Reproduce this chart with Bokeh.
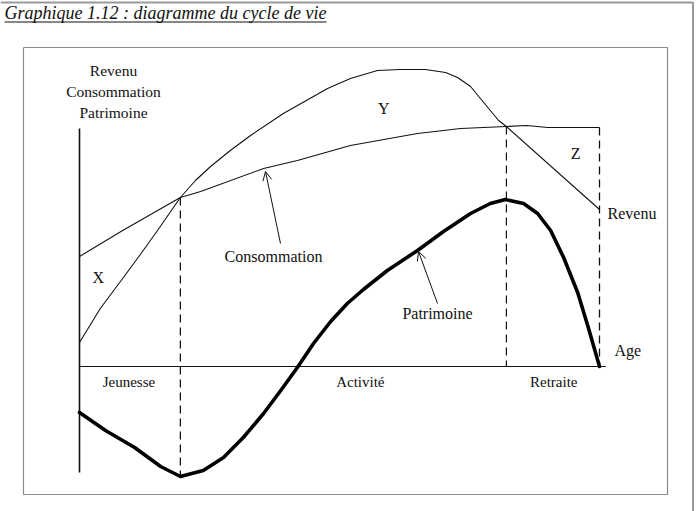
from bokeh.plotting import figure
from bokeh.models import Range1d, Arrow, OpenHead
from bokeh.core.properties import value
from bokeh.embed import file_html
from bokeh.resources import INLINE

# ---------------- data (age units 0..100, value units) ----------------
revenu_age = [0.0, 4.0, 8.3, 11.7, 15.0, 19.4, 22.3, 25.2, 29.0, 32.9, 39.2, 47.7, 52.1, 57.3, 61.7, 66.5, 70.4, 72.7, 75.2, 77.1, 80.6, 82.1, 100.0]
revenu_val = [12.0, 29.0, 44.0, 56.0, 68.0, 84.5, 93.0, 100.0, 108.0, 115.5, 126.5, 139.0, 144.0, 148.0, 148.5, 148.5, 147.0, 144.5, 140.0, 134.0, 123.0, 120.0, 78.5]

conso_age = [0.0, 8.3, 19.4, 23.3, 35.4, 41.9, 52.1, 65.0, 73.3, 82.1, 86.0, 90.0, 100.0]
conso_val = [55.0, 68.0, 84.5, 87.5, 99.0, 103.0, 110.5, 116.5, 119.0, 120.0, 120.5, 119.5, 119.5]

patri_age = [0.0, 5.0, 10.6, 15.6, 19.4, 23.8, 27.7, 31.5, 35.4, 38.7, 41.9, 45.0, 48.3, 51.5, 54.6, 59.2, 65.0, 70.0, 75.2, 79.0, 81.9, 85.4, 88.1, 90.6, 93.1, 95.8, 97.9, 100.0]
patri_val = [-23.0, -32.0, -40.5, -50.0, -55.0, -52.0, -45.5, -35.5, -23.5, -12.0, -0.5, 11.5, 22.5, 31.5, 38.5, 48.0, 58.0, 67.5, 76.5, 81.5, 83.5, 81.5, 76.5, 68.0, 54.5, 37.0, 19.0, 0.0]

age_fin_jeunesse = 19.4
age_retraite = 82.1
age_deces = 100.0
age_axe_fin = 101.2
val_axe_haut = 119.0
val_axe_bas = -53.0

periodes = ["Jeunesse", "Activité", "Retraite"]
periodes_age = [9.5, 54.0, 91.2]
zones = ["X", "Y", "Z"]
zones_age = [3.6, 58.5, 95.4]
zones_val = [44.5, 129.0, 106.5]

titre = "Graphique 1.12 : diagramme du cycle de vie"
axe_titre = ["Revenu", "Consommation", "Patrimoine"]

# ---------------- layout (pixel geometry of the page) ----------------
W, H = 697, 511
X0, KX = 79.0, 5.2     # pixel x of age 0, pixels per age unit
Y0, KY = 366.0, 2.0    # pixel y of value 0, pixels per value unit


def dx(px):
    return (px - X0) / KX


def dy(py):
    return (Y0 - py) / KY


p = figure(width=W, height=H, x_range=Range1d(dx(0), dx(W)), y_range=Range1d(dy(H), dy(0)),
           min_border=0, toolbar_location=None, output_backend="svg")
p.axis.visible = False
p.grid.visible = False
p.outline_line_color = None
p.background_fill_color = "white"

FONT = value("Liberation Serif")
INK = "#111111"

# outer page frame and inner chart box
p.line([dx(0), dx(692.5), dx(692.5)], [dy(2), dy(2), dy(H)], line_color="#9a9a9a", line_width=2)
p.line([dx(23), dx(667), dx(667), dx(23), dx(23)], [dy(47), dy(47), dy(494), dy(494), dy(47)],
       line_color="#8c8c8c", line_width=1.2)

# title (italic, underlined)
p.text(x=[dx(4)], y=[dy(12.5)], text=[titre], text_font=FONT, text_font_style="italic",
       text_font_size="18px", text_baseline="middle", text_align="left", text_color=INK)
p.line([dx(4), dx(326)], [dy(21.5), dy(21.5)], line_color=INK, line_width=1)

# axes
p.line([0, 0], [val_axe_haut, val_axe_bas], line_color=INK, line_width=1.6)
p.line([0, age_axe_fin], [0, 0], line_color=INK, line_width=1)

# dashed verticals
i_j = revenu_age.index(age_fin_jeunesse)
i_r = revenu_age.index(age_retraite)
p.line([age_fin_jeunesse, age_fin_jeunesse], [revenu_val[i_j], min(patri_val)],
       line_color=INK, line_width=1.3, line_dash="8 5")
p.line([age_retraite, age_retraite], [revenu_val[i_r], 0], line_color=INK, line_width=1.2, line_dash="8 5")
p.line([age_deces, age_deces], [conso_val[-1], 0], line_color=INK, line_width=1.3, line_dash="8 5")

# curves
p.line(revenu_age, revenu_val, line_color=INK, line_width=1.1, line_join="round")
p.line(conso_age, conso_val, line_color=INK, line_width=1.1, line_join="round")
p.line(patri_age, patri_val, line_color="black", line_width=3.6, line_join="round", line_cap="round")

# arrows
p.add_layout(Arrow(end=OpenHead(size=9, line_width=1, line_color=INK), x_start=dx(280), y_start=dy(243),
                   x_end=dx(265), y_end=dy(171), line_width=1, line_color=INK))
p.add_layout(Arrow(end=OpenHead(size=9, line_width=1, line_color=INK), x_start=dx(437), y_start=dy(303),
                   x_end=dx(418), y_end=dy(251), line_width=1, line_color=INK))

# texts
p.text(x=[dx(113)] * 3, y=[dy(70), dy(91), dy(112)], text=axe_titre, text_font=FONT,
       text_font_size="15.5px", text_align="center", text_baseline="middle", text_color=INK)
p.text(x=zones_age, y=zones_val, text=zones, text_font=FONT, text_font_size="16px",
       text_align="center", text_baseline="middle", text_color=INK)
p.text(x=periodes_age, y=[dy(381)] * 3, text=periodes, text_font=FONT, text_font_size="15px",
       text_align="center", text_baseline="middle", text_color=INK)
p.text(x=[dx(273)], y=[dy(256)], text=["Consommation"], text_font=FONT, text_font_size="16px",
       text_align="center", text_baseline="middle", text_color=INK)
p.text(x=[dx(437)], y=[dy(313)], text=["Patrimoine"], text_font=FONT, text_font_size="16px",
       text_align="center", text_baseline="middle", text_color=INK)
p.text(x=[dx(607)], y=[dy(213)], text=["Revenu"], text_font=FONT, text_font_size="16px",
       text_align="left", text_baseline="middle", text_color=INK)
p.text(x=[dx(614)], y=[dy(350)], text=["Age"], text_font=FONT, text_font_size="16px",
       text_align="left", text_baseline="middle", text_color=INK)

open("out.html", "w").write(file_html(p, INLINE))
